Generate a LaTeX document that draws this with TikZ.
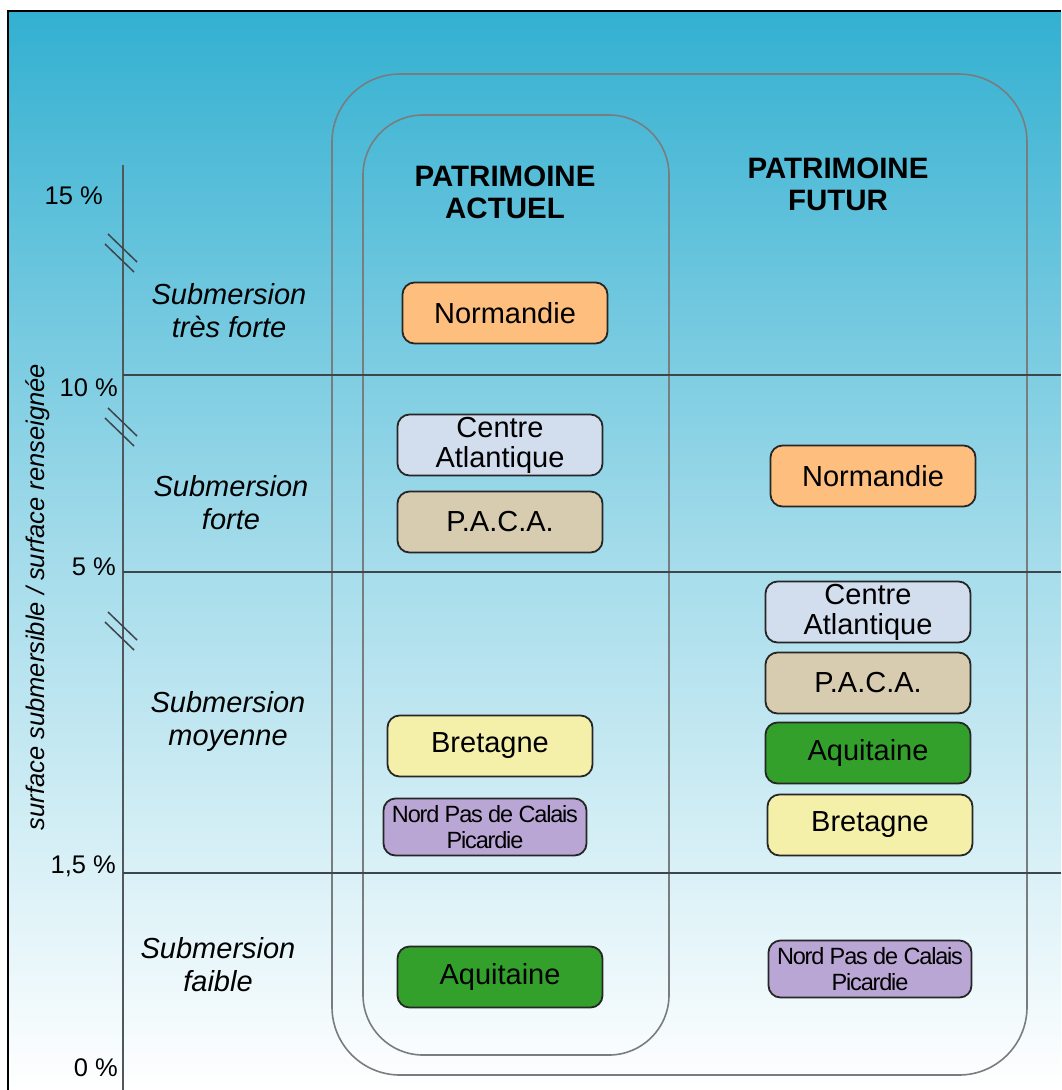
\documentclass[tikz,border=0pt]{standalone}
\usepackage{fontspec}
\setmainfont{Liberation Sans}
\definecolor{bgtop}{RGB}{51,176,209}
\definecolor{orangeB}{RGB}{253,190,126}
\definecolor{centreB}{RGB}{210,221,238}
\definecolor{pacaB}{RGB}{216,204,176}
\definecolor{bretB}{RGB}{244,240,170}
\definecolor{nordB}{RGB}{185,166,212}
\definecolor{aquiB}{RGB}{51,160,44}
\definecolor{gridc}{RGB}{60,70,75}
\definecolor{framec}{RGB}{120,125,128}
\tikzset{
  rbox/.style={draw=black!85, line width=1.8pt, rounded corners=12pt, inner sep=0pt,
    minimum width=205pt, minimum height=61pt, align=center,
    font=\fontsize{29}{30}\selectfont},
  nbox/.style={rbox, minimum height=57pt, minimum width=203pt,
    font=\fontsize{23.5}{26}\selectfont\addfontfeature{LetterSpace=-5}},
  cat/.style={align=center, font=\fontsize{29}{33}\selectfont\itshape},
  pct/.style={anchor=east, font=\fontsize{25.5}{28}\selectfont, inner sep=0pt},
  hdr/.style={align=center, font=\fontsize{29.5}{32}\selectfont\bfseries},
  brk/.style={line width=1.5pt, gridc},
  hline/.style={line width=1.3pt, gridc},
  pane/.style={draw=framec, line width=1.6pt}
}
\begin{document}
\begin{tikzpicture}[x=1pt,y=-1pt]
\useasboundingbox (0,0) rectangle (1061,1090);
% background
\shade[top color=bgtop, bottom color=white, middle color=bgtop!45!white] (8,11) rectangle (1061,1090);
\draw[line width=2pt, black] (8,1090) -- (8,11) -- (1061,11);
% panes
\draw[pane, rounded corners=68pt] (332,74) rectangle (1027,1075);
\draw[pane, rounded corners=60pt] (363,115) rectangle (669,1055);
% axis and grid
\draw[line width=2.5pt, gridc!90] (123,165) -- (123,1090);
\draw[hline] (123,375) -- (1061,375);
\draw[hline] (123,572) -- (1061,572);
\draw[hline] (123,873) -- (1061,873);
% breaks
\foreach \yy in {250,424,628}{
  \draw[brk] (108,\yy-16) -- (137,\yy+12);
  \draw[brk] (105,\yy-6) -- (134,\yy+22);
}
% axis labels
\node[pct] (p15) at (103,196) {15 \%};
\node[pct] (p10) at (118,388) {10 \%};
\node[pct] (p5) at (116,567) {5 \%};
\node[pct] (p15b) at (116,866) {1,5 \%};
\node[pct] (p0) at (118,1068) {0 \%};
\node[rotate=90, font=\fontsize{25.5}{28}\selectfont\itshape] (ylab) at (38,597) {surface submersible / surface renseignée};
% categories
\node[cat] (c1) at (229,311) {Submersion\\très forte};
\node[cat] (c2) at (231,503) {Submersion\\forte};
\node[cat] (c3) at (228,721) {Submersion\\moyenne};
\node[cat] (c4) at (218,965) {Submersion\\faible};
% headers
\node[hdr] (h1) at (505,192) {PATRIMOINE\\ACTUEL};
\node[hdr] (h2) at (838,184) {PATRIMOINE\\FUTUR};
% left column
\node[rbox, fill=orangeB] (ln) at (505,313) {Normandie};
\node[rbox, fill=centreB] (lc) at (500,445) {Centre\\Atlantique};
\node[rbox, fill=pacaB] (lp) at (500,522) {P.A.C.A.};
\node[rbox, fill=bretB] (lb) at (490,746) {Bretagne};
\node[nbox, fill=nordB] (lnp) at (485,827) {Nord Pas de Calais\\Picardie};
\node[rbox, fill=aquiB] (la) at (500,977) {Aquitaine};
% right column
\node[rbox, fill=orangeB] (rn) at (873,476) {Normandie};
\node[rbox, fill=centreB] (rc) at (868,612) {Centre\\Atlantique};
\node[rbox, fill=pacaB] (rp) at (868,683) {P.A.C.A.};
\node[rbox, fill=aquiB] (ra) at (868,753) {Aquitaine};
\node[rbox, fill=bretB] (rb) at (870,825) {Bretagne};
\node[nbox, fill=nordB] (rnp) at (870,969) {Nord Pas de Calais\\Picardie};
\end{tikzpicture}
\end{document}
